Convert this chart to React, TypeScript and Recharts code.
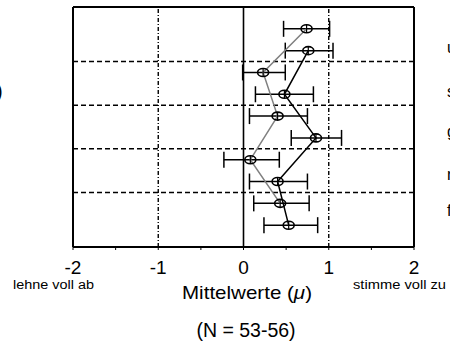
import React from "react";
import { ScatterChart, Scatter, XAxis, YAxis, ErrorBar, ReferenceLine } from "recharts";

// grey series (odd rows), black series (even rows); values are means on the -2..2 scale
const greyRows = [1, 3, 5, 7, 9];
const greyMeans = [0.74, 0.23, 0.4, 0.08, 0.43];
const greyLow = [0.27, 0.24, 0.33, 0.31, 0.31];
const greyHigh = [0.27, 0.26, 0.35, 0.34, 0.34];

const blackRows = [2, 4, 6, 8, 10];
const blackMeans = [0.76, 0.48, 0.85, 0.4, 0.53];
const blackLow = [0.27, 0.34, 0.29, 0.33, 0.29];
const blackHigh = [0.29, 0.34, 0.3, 0.35, 0.34];

const xTicks = [-2, -1.5, -1, -0.5, 0, 0.5, 1, 1.5, 2];
const rowTicks = [1, 2.5, 3.3, 4.5, 5.7, 6.5, 7.7, 8.5, 9.6];
const rowGrid = [2.5, 4.5, 6.5, 8.5];

const FONT = "'Liberation Sans', Arial, sans-serif";

const greyData = greyRows.map((r, i) => ({ x: greyMeans[i], y: r, err: [greyLow[i], greyHigh[i]] }));
const blackData = blackRows.map((r, i) => ({ x: blackMeans[i], y: r, err: [blackLow[i], blackHigh[i]] }));

function Marker(props: any) {
  const { cx, cy } = props;
  if (cx == null || cy == null) return null;
  return (
    <g>
      <ellipse cx={cx} cy={cy} rx={5.5} ry={4} fill="none" stroke="#000" strokeWidth={1.6} />
      <line x1={cx} x2={cx} y1={cy - 4} y2={cy + 4} stroke="#000" strokeWidth={1.2} />
    </g>
  );
}

function XTick(props: any) {
  const { x, y, payload } = props;
  if (!Number.isInteger(payload.value)) return null;
  return (
    <text x={x} y={y} dy={22} textAnchor="middle" fontSize={19} fill="#000" fontFamily={FONT}>
      {String(payload.value)}
    </text>
  );
}

export default function App() {
  return (
    <div style={{ position: "absolute", left: 0, top: 0, width: 450, height: 342, background: "#fff", overflow: "hidden" }}>
      <ScatterChart width={450} height={342} margin={{ top: 7, right: 36, bottom: 65, left: 73 }}>
        <XAxis
          type="number"
          dataKey="x"
          domain={[-2, 2]}
          ticks={xTicks}
          interval={0}
          height={30}
          tickSize={3}
          axisLine={{ stroke: "#000", strokeWidth: 2 }}
          tickLine={{ stroke: "#000", strokeWidth: 1 }}
          tick={<XTick />}
          allowDataOverflow
        />
        <YAxis
          type="number"
          dataKey="y"
          domain={[0, 11]}
          reversed
          ticks={rowTicks}
          interval={0}
          width={0}
          mirror
          tickSize={3}
          tick={false}
          axisLine={{ stroke: "#000", strokeWidth: 2 }}
          tickLine={{ stroke: "#000", strokeWidth: 1 }}
          allowDataOverflow
        />
        {rowGrid.map((v) => (
          <ReferenceLine key={v} y={v} stroke="#000" strokeWidth={1.4} strokeDasharray="5 3" />
        ))}
        <ReferenceLine x={-1} stroke="#000" strokeWidth={1.4} strokeDasharray="4 2 1 2" />
        <ReferenceLine x={1} stroke="#000" strokeWidth={1.4} strokeDasharray="4 2 1 2" />
        <ReferenceLine x={0} stroke="#000" strokeWidth={1.6} />
        <ReferenceLine y={0} stroke="#000" strokeWidth={2} />
        <ReferenceLine x={2} stroke="#000" strokeWidth={2} />
        <ReferenceLine x={-2} stroke="#000" strokeWidth={2} />
        <Scatter
          data={blackData}
          fill="#000"
          line={{ stroke: "#000", strokeWidth: 1.5 }}
          shape={(p: any) => <Marker {...p} />}
          isAnimationActive={false}
        >
          <ErrorBar dataKey="err" direction="x" width={8} stroke="#000" strokeWidth={1.5} isAnimationActive={false} />
        </Scatter>
        <Scatter
          data={greyData}
          fill="#808080"
          line={{ stroke: "#808080", strokeWidth: 1.5 }}
          shape={(p: any) => <Marker {...p} />}
          isAnimationActive={false}
        >
          <ErrorBar dataKey="err" direction="x" width={8} stroke="#000" strokeWidth={1.5} isAnimationActive={false} />
        </Scatter>
      </ScatterChart>
      <svg width={450} height={342} style={{ position: "absolute", left: 0, top: 0, pointerEvents: "none" }} fontFamily={FONT}>
        <text x={-4} y={98} fontSize={20} fill="#000">)</text>
        <text x={447} y={53} fontSize={16} fill="#000">u</text>
        <text x={447} y={97} fontSize={16} fill="#000">s</text>
        <text x={447} y={137} fontSize={16} fill="#000">g</text>
        <text x={447} y={180} fontSize={16} fill="#000">r</text>
        <text x={447} y={216} fontSize={16} fill="#000">f</text>
        <text x={13} y={289} fontSize={12.5} fill="#000" textLength={81} lengthAdjust="spacingAndGlyphs">lehne voll ab</text>
        <text x={353} y={289} fontSize={12.5} fill="#000" textLength={93} lengthAdjust="spacingAndGlyphs">stimme voll zu</text>
        <text x={182} y={299} fontSize={19} fill="#000" textLength={130} lengthAdjust="spacingAndGlyphs">
          Mittelwerte (<tspan fontStyle="italic">μ</tspan>)
        </text>
        <text x={246} y={337} fontSize={19.5} fill="#000" textAnchor="middle">(N = 53-56)</text>
      </svg>
    </div>
  );
}
